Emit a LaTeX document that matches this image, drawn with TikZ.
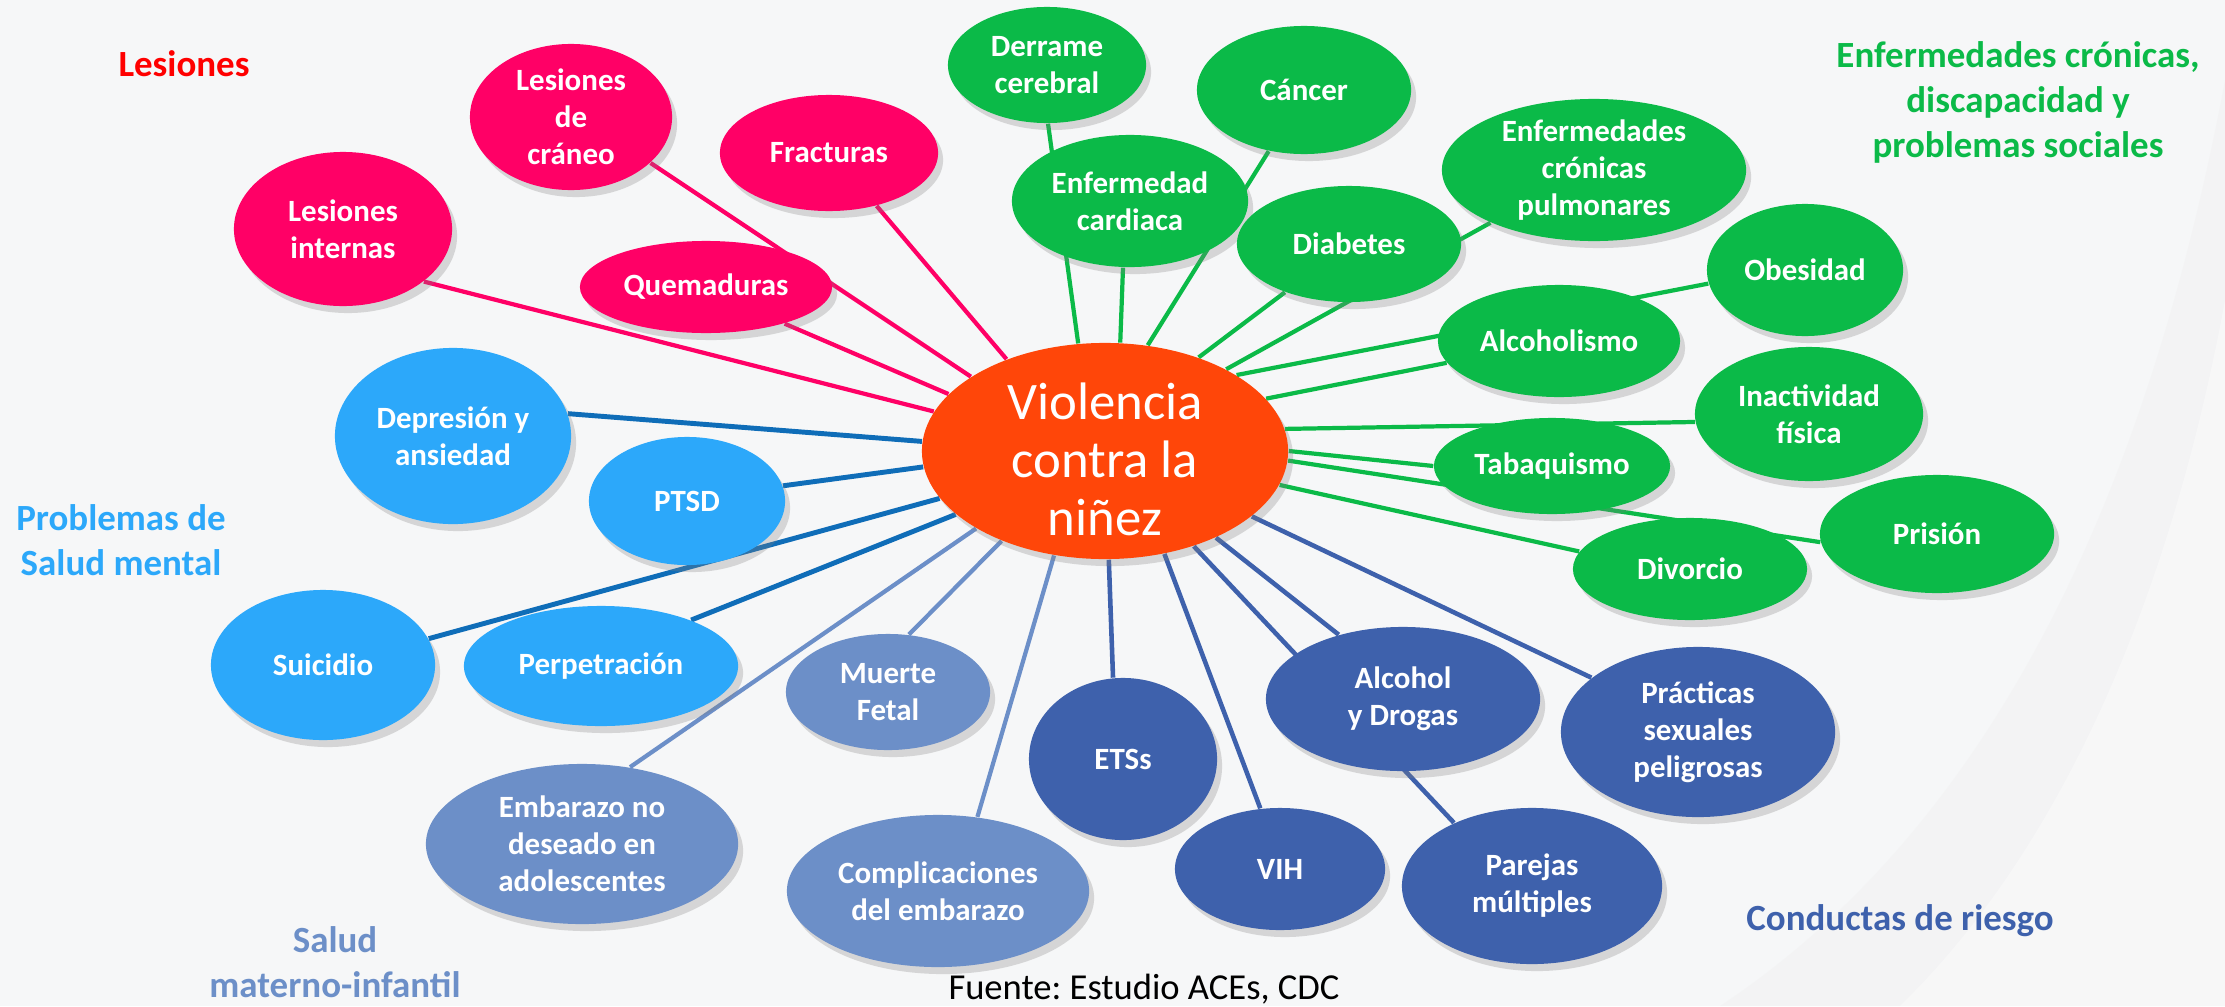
\documentclass[tikz,border=0pt]{standalone}
\usepackage{fontspec}
\setmainfont{Carlito}
\frenchspacing
\usetikzlibrary{shapes.geometric,shadows}
\definecolor{pinkc}{HTML}{FF0066}
\definecolor{greenc}{HTML}{0BBA48}
\definecolor{lblue}{HTML}{2CA8FA}
\definecolor{lbline}{HTML}{0F6DB8}
\definecolor{mblue}{HTML}{6C8FC8}
\definecolor{dblue}{HTML}{3E61AC}
\definecolor{orangec}{HTML}{FF4609}
\definecolor{bgc}{HTML}{F6F7F8}
\definecolor{redlab}{HTML}{FF0000}
\pgfdeclarelayer{back}
\pgfdeclarelayer{lines}
\pgfsetlayers{back,lines,main}
\begin{document}
\begin{tikzpicture}[x=0.01cm,y=-0.01cm,
  bub/.style={ellipse, inner sep=0pt, align=center, text=white,
    font=\fontsize{8.8}{10.5}\selectfont\bfseries,
    drop shadow={shadow xshift=0.05cm, shadow yshift=-0.07cm, opacity=0.28}},
  sz/.style 2 args={minimum width=#1*0.02cm, minimum height=#2*0.02cm},
  les/.style={bub, fill=pinkc},
  grn/.style={bub, fill=greenc},
  lb/.style={bub, fill=lblue},
  mat/.style={bub, fill=mblue},
  drk/.style={bub, fill=dblue},
  conn/.style={line width=1.2pt},
  lesl/.style={conn, draw=pinkc},
  grnl/.style={conn, draw=greenc},
  lbl/.style={conn, draw=lbline, line width=1.4pt},
  matl/.style={conn, draw=mblue},
  drkl/.style={conn, draw=dblue, line width=1.3pt},
  grp/.style={font=\fontsize{10.5}{12.8}\selectfont\bfseries, align=center}
]
\useasboundingbox (0,0) rectangle (2225,1006);
\begin{pgfonlayer}{back}
\clip (0,0) rectangle (2225,1006);
\fill[bgc] (0,0) rectangle (2225,1006);
\fill[gray!12, opacity=0.45] (2225,80) .. controls (2150,480) and (2000,820) .. (1720,1006) -- (2225,1006) -- cycle;
\fill[white, opacity=0.35] (2225,300) .. controls (2170,600) and (2060,850) .. (1900,1006) -- (2225,1006) -- cycle;
\end{pgfonlayer}

% centre
\node[ellipse, fill=orangec, minimum width=3.66cm, minimum height=2.16cm,
  inner sep=0pt,
  drop shadow={shadow xshift=0.05cm, shadow yshift=-0.07cm, opacity=0.28}]
  (ctr) at (1105,451) {};
\node[text=white, align=center, inner sep=0pt,
  font=\fontsize{15}{16.5}\selectfont] (ctrt) at (1105,459) {Violencia\\contra la\\niñez};

% Lesiones
\node[les, sz={109}{77}] (li) at (343,229) {Lesiones\\internas};
\node[les, sz={101}{73}] (lc) at (571,117) {Lesiones\\de\\cráneo};
\node[les, sz={109}{58}] (fr) at (829,153) {Fracturas};
\node[les, sz={126}{46}] (qu) at (706,287) {Quemaduras};

% Enfermedades
\node[grn, sz={99}{58}] (de) at (1047,65) {Derrame\\cerebral};
\node[grn, sz={118}{66}] (ec) at (1130,201) {Enfermedad\\cardiaca};
\node[grn, sz={107}{64}] (ca) at (1304,90) {Cáncer};
\node[grn, sz={152}{71}] (ep) at (1594,170) {Enfermedades\\crónicas\\pulmonares};
\node[grn, sz={112}{58}] (di) at (1349,244) {Diabetes};
\node[grn, sz={98}{66}] (ob) at (1805,270) {Obesidad};
\node[grn, sz={121}{56}] (alc) at (1559,341) {Alcoholismo};
\node[grn, sz={114}{67}] (ina) at (1809,414) {Inactividad\\física};
\node[grn, sz={118}{48}] (ta) at (1552,466) {Tabaquismo};
\node[grn, sz={117}{59}] (pr) at (1937,534) {Prisión};
\node[grn, sz={117}{51}] (dv) at (1690,569) {Divorcio};

% Conductas de riesgo
\node[drk, sz={137}{72}] (ad) at (1403,699) {Alcohol\\y Drogas};
\node[drk, sz={137}{85}] (ps) at (1698,732) {Prácticas\\sexuales\\peligrosas};
\node[drk, sz={105}{61}] (vi) at (1280,869) {VIH};
\node[drk, sz={130}{78}] (pm) at (1532,886) {Parejas\\múltiples};
\node[drk, sz={94}{81}] (et) at (1123,759) {ETSs};

% Materno-infantil
\node[mat, sz={102}{58}] (mf) at (888,692) {Muerte\\Fetal};
\node[mat, sz={156}{80}] (em) at (582,844) {Embarazo no\\deseado en\\adolescentes};
\node[mat, sz={151}{76}] (co) at (938,891) {Complicaciones\\del embarazo};

% Salud mental
\node[lb, sz={118}{88}] (dp) at (453,436) {Depresión y\\ansiedad};
\node[lb, sz={98}{64}] (pt) at (687,501) {PTSD};
\node[lb, sz={112}{75}] (su) at (323,665) {Suicidio};
\node[lb, sz={137}{60}] (pe) at (601,666) {Perpetración};

% group labels
\node[grp, text=redlab] (gles) at (184,64) {Lesiones};
\node[grp, text=greenc] (genf) at (2018,102) {Enfermedades crónicas,\\discapacidad y\\problemas sociales};
\node[grp, text=lblue] (gmen) at (121,540) {Problemas de\\Salud mental};
\node[grp, text=mblue] (gmat) at (335,962) {Salud\\materno-infantil};
\node[grp, text=dblue] (gcon) at (1900,921) {Conductas de riesgo};
\node[anchor=base, font=\fontsize{10.4}{12}\selectfont, text=black] (fu) at (1144,999) {Fuente: Estudio ACEs, CDC};

\begin{pgfonlayer}{lines}
\draw[lesl] (ctr.167.4) -- (li.-33);
\draw[lesl] (ctr.151.2) -- (lc.-30);
\draw[lesl] (ctr.137.1) -- (fr.-48);
\draw[lesl] (ctr.160.8) -- (qu.-25);
\draw[grnl] (ctr.104.8) -- (de.-89);
\draw[grnl] (ctr.82) -- (ec.-96);
\draw[grnl] (ctr.68) -- (ca.-120);
\draw[grnl] (ctr.34) -- (ep.-153);
\draw[grnl] (ctr.45.3) -- (di.-143);
\draw[grnl] (ctr.30.7) -- (ob.-172);
\draw[grnl] (ctr.18.4) -- (alc.-169);
\draw[grnl] (ctr.7.6) -- (ina.-176);
\draw[grnl] (ctr.-0.6) -- (ta.180);
\draw[grnl] (ctr.-3.8) -- (pr.-176.6);
\draw[grnl] (ctr.-11.5) -- (dv.171.7);
\draw[drkl] (ctr.-24.8) -- (ps.153);
\draw[drkl] (ctr.-38.5) -- (ad.135);
\draw[drkl] (ctr.-47.5) -- (pm.141);
\draw[drkl] (ctr.-60) -- (vi.108);
\draw[drkl] (ctr.-88.4) -- (et.97);
\draw[matl] (ctr.-116.3) -- (co.62.5);
\draw[matl] (ctr.-139.4) -- (mf.70);
\draw[matl] (ctr.-149.9) -- (em.58);
\draw[lbl] (ctr.-157.7) -- (pe.27);
\draw[lbl] (ctr.-164.7) -- (su.14);
\draw[lbl] (ctr.-175) -- (pt.9.6);
\draw[lbl] (ctr.177.2) -- (dp.11);
\end{pgfonlayer}
\end{tikzpicture}
\end{document}
